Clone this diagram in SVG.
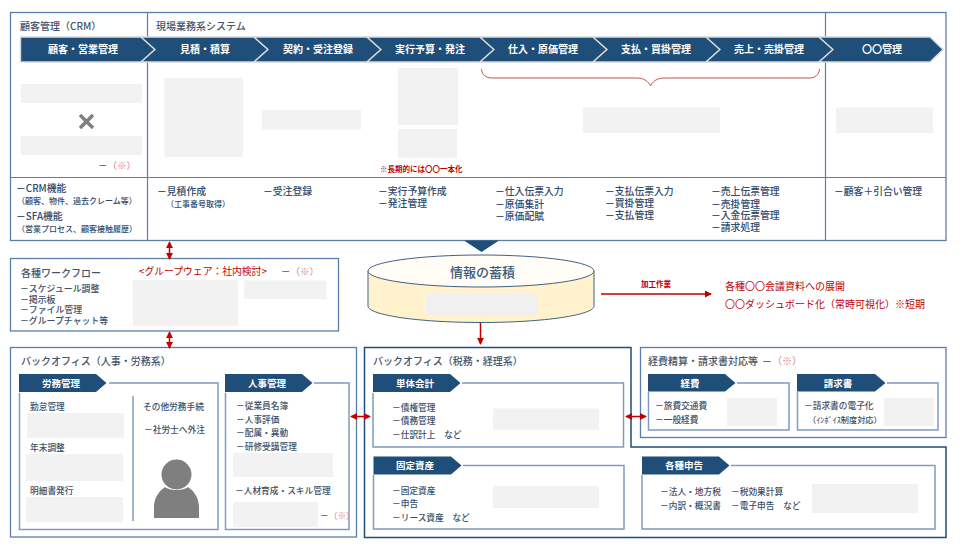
<svg xmlns="http://www.w3.org/2000/svg" width="960" height="551" viewBox="0 0 960 551">
<style>
text{font-family:"Noto Sans CJK JP","Noto Sans",sans-serif;fill:#3c4f66;font-size:9.5px}
.h{font-size:10px;font-weight:500;fill:#44546a}
.w{fill:#fff;font-weight:700;font-size:10px}
.t{fill:#fff;font-weight:700;font-size:9.5px;text-anchor:middle}
.l{font-size:9.8px;fill:#2f4a6b;font-weight:500}
.s{font-size:8px;fill:#2f4a6b;font-weight:500}
.m{font-size:8.7px;font-weight:500}
.r{fill:#c00000;font-size:10px}
.p{fill:#d9808a;font-size:9.5px}
.d{fill:#c00000}
.g{fill:#f2f2f2}
.f{fill:#fff;stroke:#5b7fa8;stroke-width:1.3}
.b{fill:none;stroke:#7f9bbd;stroke-width:1.5}
.chev{fill:#1f4e79;stroke:#d9d9d9;stroke-width:1.4}
.pent{fill:#1f4e79}
.a{fill:none;stroke:#c00000;stroke-width:1.5}
</style>
<defs>
<marker id="ah2" viewBox="0 0 8 8" refX="7" refY="4" markerWidth="7" markerHeight="7" markerUnits="userSpaceOnUse" orient="auto-start-reverse"><path d="M0 0L8 4L0 8Z" fill="#c00000"/></marker>
</defs>

<g id="process-frame">
<rect class="f" x="10.500" y="12.500" width="935.500" height="228"/>
<path d="M147.500 12.500V240.500M825.500 12.500V240.500M10.500 177.500H946" fill="none" stroke="#5b7fa8" stroke-width="1.200"/>
<text class="h" x="20" y="30">顧客管理（CRM）</text>
<text class="h" x="156" y="30">現場業務系システム</text>
</g>

<g id="chevrons">
<path class="chev" d="M20.500 37H141L155 49.500L141 62H20.500Z"/>
<path class="chev" d="M141 37H254L268 49.500L254 62H141L155 49.500Z"/>
<path class="chev" d="M254 37H367L381 49.500L367 62H254L268 49.500Z"/>
<path class="chev" d="M367 37H480L494 49.500L480 62H367L381 49.500Z"/>
<path class="chev" d="M480 37H593L607 49.500L593 62H480L494 49.500Z"/>
<path class="chev" d="M593 37H706L720 49.500L706 62H593L607 49.500Z"/>
<path class="chev" d="M706 37H819L833 49.500L819 62H706L720 49.500Z"/>
<path class="chev" d="M819 37H930L943 49.500L930 62H819L833 49.500Z"/>
<text class="w" x="48" y="53">顧客・営業管理</text>
<text class="w" x="180" y="53">見積・積算</text>
<text class="w" x="283" y="53">契約・受注登録</text>
<text class="w" x="395" y="53">実行予算・発注</text>
<text class="w" x="508" y="53">仕入・原価管理</text>
<text class="w" x="621" y="53">支払・買掛管理</text>
<text class="w" x="734" y="53">売上・売掛管理</text>
<text class="w" x="862" y="53">〇〇管理</text>
</g>

<g id="process-content">
<rect class="g" x="21" y="84" width="121" height="19"/>
<rect class="g" x="21" y="136" width="121" height="19"/>
<path d="M80 115L93 128M93 115L80 128" stroke="#7f7f7f" stroke-width="3.500" fill="none"/>
<text class="p" x="98" y="169"><tspan class="d">－</tspan>（※）</text>
<rect class="g" x="164.500" y="78" width="78.500" height="79"/>
<rect class="g" x="262" y="110" width="99" height="19.500"/>
<rect class="g" x="398" y="68" width="60" height="57"/>
<rect class="g" x="398" y="129" width="59" height="29"/>
<text x="380" y="172" style="font-size:7.500px;font-weight:700;fill:#c00000">※長期的には〇〇一本化</text>
<path d="M481.500 69C482 75 486 78 492 78H636C644 78 648 81 650.500 86C653 81 657 78 665 78H809C815 78 819 75 819.500 69" fill="none" stroke="#c8504d" stroke-width="1"/>
<rect class="g" x="583" y="107.500" width="137" height="25.500"/>
<rect class="g" x="836" y="107.500" width="97" height="25.500"/>
<text class="l" x="16" y="192">－CRM機能</text>
<text class="s" x="17" y="204">（顧客、物件、過去クレーム等）</text>
<text class="l" x="16" y="220">－SFA機能</text>
<text class="s" x="17" y="232">（営業プロセス、顧客接触履歴）</text>
<text class="l" x="157" y="195">－見積作成</text>
<text class="s" x="166" y="207">（工事番号取得）</text>
<text class="l" x="263" y="195">－受注登録</text>
<text class="l"><tspan x="378" y="195">－実行予算作成</tspan><tspan x="378" y="207">－発注管理</tspan></text>
<text class="l"><tspan x="495" y="195">－仕入伝票入力</tspan><tspan x="495" y="208">－原価集計</tspan><tspan x="495" y="220">－原価配賦</tspan></text>
<text class="l"><tspan x="605" y="195">－支払伝票入力</tspan><tspan x="605" y="207">－買掛管理</tspan><tspan x="605" y="219">－支払管理</tspan></text>
<text class="l"><tspan x="711" y="195">－売上伝票管理</tspan><tspan x="711" y="207.500">－売掛管理</tspan><tspan x="711" y="219">－入金伝票管理</tspan><tspan x="711" y="231">－請求処理</tspan></text>
<text class="l" x="834" y="195">－顧客＋引合い管理</text>
</g>

<g id="workflow">
<rect class="f" x="10.500" y="258.500" width="328" height="72.500"/>
<text class="h" x="21" y="276.500">各種ワークフロー</text>
<text x="139" y="275" style="fill:#c00000;font-size:9.800px">&lt;グループウェア：社内検討&gt;</text>
<text class="p" x="281" y="275"><tspan class="d">－</tspan>（※）</text>
<rect class="g" x="133" y="280" width="105" height="46"/>
<rect class="g" x="244" y="280.500" width="82.500" height="18.500"/>
<text class="m" style="font-size:8.900px"><tspan x="20" y="292">－スケジュール調整</tspan><tspan x="20" y="302.500">－掲示板</tspan><tspan x="20" y="313">－ファイル管理</tspan><tspan x="20" y="323.500">－グループチャット等</tspan></text>
</g>

<g id="storage">
<path d="M368 271V306C368 315 418 322.500 481 322.500C544 322.500 594 315 594 306V271Z" fill="#fff2cc" stroke="#3f6285" stroke-width="1"/>
<ellipse cx="481" cy="271" rx="113" ry="16" fill="#fffdf5" stroke="#3f6285" stroke-width="1"/>
<text x="450" y="277" style="font-size:13px;fill:#3c5a7a;font-weight:500">情報の蓄積</text>
<rect x="426" y="293.500" width="112" height="21.500" fill="#f0f0f0"/>
</g>

<g id="outputs">
<text x="641" y="287" style="font-size:7.500px;font-weight:700;fill:#c00000">加工作業</text>
<text class="r" x="725" y="290">各種〇〇会議資料への展開</text>
<text class="r" x="725" y="308">〇〇ダッシュボード化（常時可視化）※短期</text>
</g>

<g id="hr-office">
<rect class="f" x="10.500" y="347.500" width="346" height="189.500"/>
<text class="h" x="21" y="364.500">バックオフィス（人事・労務系）</text>
<path class="b" d="M109 383H218V529.500H19.500V393"/>
<path class="pent" d="M19 374H96L106.500 383L96 392H19Z"/>
<text class="t" x="61" y="386.500">労務管理</text>
<path d="M133 396V521" stroke="#7f9bbd" stroke-width="1.500"/>
<text class="m" x="30" y="409.500">勤怠管理</text>
<rect class="g" x="27" y="413" width="97" height="25"/>
<text class="m" x="30" y="450.500">年末調整</text>
<rect class="g" x="26" y="454" width="97" height="27"/>
<text class="m" x="30" y="493.500">明細書発行</text>
<rect class="g" x="26" y="497" width="97" height="25"/>
<text class="m" x="143" y="409.500">その他労務手続</text>
<text class="m" x="144" y="432.500">－社労士へ外注</text>
<circle cx="176.500" cy="474.500" r="15" fill="#7f7f7f"/>
<path d="M154 518V507C154 498 159 491 165 487C169 491 184 491 188 487C194 491 199 498 199 507V518Z" fill="#7f7f7f"/>
<path class="b" d="M314 383H349V529.500H225.500V393"/>
<path class="pent" d="M225 374H302L312.500 383L302 392H225Z"/>
<text class="t" x="267" y="386.500">人事管理</text>
<text class="m"><tspan x="236" y="409">－従業員名簿</tspan><tspan x="236" y="422.500">－人事評価</tspan><tspan x="236" y="436">－配属・異動</tspan><tspan x="236" y="449.500">－研修受講管理</tspan></text>
<rect class="g" x="233" y="453" width="100" height="24"/>
<text class="m" x="235" y="494">－人材育成・スキル管理</text>
<rect class="g" x="233" y="502" width="85" height="25"/>
<text class="p" x="320" y="519" style="font-size:8.700px"><tspan class="d">－</tspan>（※）</text>
</g>

<g id="accounting-office">
<path d="M364.500 347.500H631V447H946V537.500H364.500Z" fill="#fff" stroke="#1f4e79" stroke-width="1.500"/>
<text class="h" x="373" y="364.500">バックオフィス（税務・経理系）</text>
<path class="b" d="M462 383H623.500V447H373V393"/>
<path class="pent" d="M373 374H450L460.500 383L450 392H373Z"/>
<text class="t" x="415" y="386.500">単体会計</text>
<text class="m"><tspan x="392" y="410.500">－債権管理</tspan><tspan x="392" y="424">－債務管理</tspan><tspan x="392" y="437.500">－仕訳計上　など</tspan></text>
<rect class="g" x="493" y="408.500" width="106" height="21.500"/>
<path class="b" d="M463 465.500H624V529H373.500V475"/>
<path class="pent" d="M373.500 456.500H451L461.500 465.500L451 474.500H373.500Z"/>
<text class="t" x="415" y="469">固定資産</text>
<text class="m"><tspan x="392" y="493.500">－固定資産</tspan><tspan x="392" y="507">－申告</tspan><tspan x="392" y="520.500">－リース資産　など</tspan></text>
<rect class="g" x="493" y="486" width="106" height="22"/>
<path class="b" d="M731 465.500H935V529H642V475"/>
<path class="pent" d="M642 456.500H719L729.500 465.500L719 474.500H642Z"/>
<text class="t" x="684" y="469">各種申告</text>
<text class="m"><tspan x="660" y="495">－法人・地方税</tspan><tspan x="660" y="508.500">－内訳・概況書</tspan></text>
<text class="m"><tspan x="731" y="495">－税効果計算</tspan><tspan x="731" y="508.500">－電子申告　など</tspan></text>
<rect class="g" x="812" y="484" width="106" height="29"/>
</g>

<g id="expense-office">
<rect class="f" x="640.500" y="347.500" width="305.500" height="90"/>
<text class="h" x="648" y="364.500">経費精算・請求書対応等</text>
<text x="762" y="364.500" style="fill:#d9808a;font-size:10px"><tspan class="d">－</tspan>（※）</text>
<path class="b" d="M737 383H789V430H648.500V392"/>
<path class="pent" d="M648 374H725L735.500 383L725 391.500H648Z"/>
<text class="t" x="690" y="386.500">経費</text>
<text class="m"><tspan x="655" y="408.500">－旅費交通費</tspan><tspan x="655" y="422.500">－一般経費</tspan></text>
<rect class="g" x="727" y="398" width="50" height="28"/>
<path class="b" d="M887 383H938V430H797.500V392"/>
<path class="pent" d="M797 374H875L885.500 383L875 391.500H797Z"/>
<text class="t" x="838" y="386.500">請求書</text>
<text class="m" x="804" y="408.500">－請求書の電子化</text>
<text x="808" y="422.500" style="font-size:8.200px;font-weight:500">（ｲﾝﾎﾞｲｽ制度対応）</text>
<rect class="g" x="884" y="398" width="50" height="28"/>
</g>

<g id="connectors">
<path d="M464 240.500H499L481.500 252Z" fill="#1f4e79"/>
<path class="a" d="M169.500 242V259" marker-start="url(#ah2)" marker-end="url(#ah2)"/>
<path class="a" d="M169.500 332V348" marker-start="url(#ah2)" marker-end="url(#ah2)"/>
<path class="a" d="M351 416.500H370" marker-start="url(#ah2)" marker-end="url(#ah2)"/>
<path class="a" d="M626 416.500H646" marker-start="url(#ah2)" marker-end="url(#ah2)"/>
<path class="a" d="M480.500 323V344" marker-end="url(#ah2)"/>
<path class="a" d="M601 294H711" marker-end="url(#ah2)"/>
</g>
</svg>
